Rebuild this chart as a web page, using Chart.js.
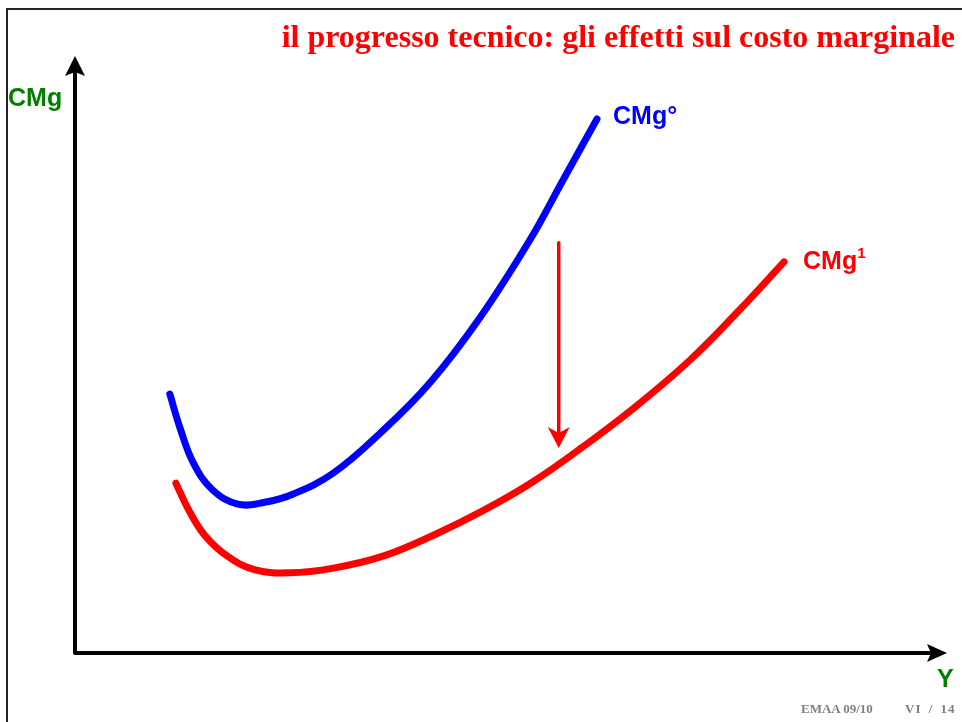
<!DOCTYPE html>
<html>
<head>
<meta charset="utf-8">
<script src="https://cdn.jsdelivr.net/npm/chart.js@4/dist/chart.umd.min.js"></script>
<style>
    html, body { margin: 0; padding: 0; background: #fff; }
    #wrap { position: relative; width: 962px; height: 722px; overflow: hidden; }
    #frame { position: absolute; left: 6px; top: 8px; right: -10px; bottom: -10px; border-left: 2px solid #222; border-top: 2px solid #222; }
    .t { position: absolute; white-space: nowrap; line-height: 1; }
    .sans { font-family: "Liberation Sans", Arial, sans-serif; font-weight: bold; }
    .serif { font-family: "Liberation Serif", "Times New Roman", serif; font-weight: bold; }
    sup { font-size: 15px; position: relative; top: -2px; }
</style>
</head>
<body>
<div id="wrap">
    <div id="frame"></div>
    <canvas id="curveChart" width="962" height="722"></canvas>
    <div class="t serif" style="right:7px; top:20px; font-size:32px; color:#ff0000;">il progresso tecnico: gli effetti sul costo marginale</div>
    <div class="t sans" style="left:8px; top:85px; font-size:25px; color:#008000;">CMg</div>
    <div class="t sans" style="left:613px; top:103px; font-size:25px; color:#0000ff;">CMg°</div>
    <div class="t sans" style="left:803px; top:247px; font-size:25px; color:#ff0000;">CMg<sup>1</sup></div>
    <div class="t sans" style="left:937px; top:666px; font-size:25px; color:#008000;">Y</div>
    <div class="t serif" style="left:801px; top:702px; font-size:13px; color:#808080;">EMAA 09/10</div>
    <div class="t serif" style="left:905px; top:702px; font-size:13px; color:#808080; letter-spacing:1px; word-spacing:3px;">VI / 14</div>
</div>
<script>
// curve values (Y on x, CMg on y), both axes 0..100
const cmg0X = [10.9, 12.1, 13.6, 15.8, 18.7, 21.8, 25.1, 29.7, 35.1, 40.8, 46.6, 52.3, 56.1, 60.0];
const cmg0Y = [43.3, 37.5, 31.8, 27.3, 24.9, 25.2, 26.6, 30.1, 36.8, 45.2, 56.2, 69.1, 79.1, 89.3];

const cmg1X = [11.6, 13.0, 14.9, 17.6, 20.7, 24.7, 29.7, 35.4, 41.2, 46.9, 52.6, 58.4, 64.1, 70.7, 76.4, 81.5];
const cmg1Y = [28.4, 24.1, 19.7, 16.1, 13.9, 13.4, 14.2, 16.2, 19.7, 23.8, 28.6, 34.5, 40.8, 49.0, 57.4, 65.4];

// the downward shift arrow
const shiftX = 55.6;
const shiftFrom = 68.6;
const shiftTo = 34.3;

const toPoints = (xs, ys) => xs.map((x, i) => ({ x: x, y: ys[i] }));

function head(ctx, x, y, dx, dy, len, half, notch) {
    const nx = -dy, ny = dx;
    ctx.beginPath();
    ctx.moveTo(x, y);
    ctx.lineTo(x - dx * len + nx * half, y - dy * len + ny * half);
    ctx.lineTo(x - dx * notch, y - dy * notch);
    ctx.lineTo(x - dx * len - nx * half, y - dy * len - ny * half);
    ctx.closePath();
    ctx.fill();
}

const axesPlugin = {
    id: 'axesArrows',
    beforeDatasetsDraw(chart) {
        const ctx = chart.ctx;
        const a = chart.chartArea;
        ctx.save();
        ctx.strokeStyle = '#000';
        ctx.fillStyle = '#000';
        ctx.lineWidth = 4;
        ctx.lineCap = 'round';
        ctx.beginPath();
        ctx.moveTo(a.left, a.bottom);
        ctx.lineTo(a.left, a.top + 12);
        ctx.moveTo(a.left, a.bottom);
        ctx.lineTo(a.right - 10, a.bottom);
        ctx.stroke();
        head(ctx, a.left, a.top + 1, 0, -1, 20, 10, 16);
        head(ctx, a.right + 2, a.bottom, 1, 0, 20, 9, 16);

        // shift arrow
        const xs = chart.scales.x, ys = chart.scales.y;
        const px = xs.getPixelForValue(shiftX);
        const py0 = ys.getPixelForValue(shiftFrom);
        const py1 = ys.getPixelForValue(shiftTo);
        ctx.strokeStyle = '#ff0000';
        ctx.fillStyle = '#ff0000';
        ctx.lineWidth = 3.5;
        ctx.beginPath();
        ctx.moveTo(px, py0);
        ctx.lineTo(px, py1 - 12);
        ctx.stroke();
        head(ctx, px, py1, 0, 1, 21, 11, 15);
        ctx.restore();
    }
};

const ctx = document.getElementById('curveChart').getContext('2d');

const chart = new Chart(ctx, {
    type: 'line',
    data: {
        datasets: [{
            label: 'CMg°',
            data: toPoints(cmg0X, cmg0Y),
            borderColor: '#0000ff',
            borderWidth: 7,
            borderCapStyle: 'round',
            borderJoinStyle: 'round',
            tension: 0.4,
            pointRadius: 0,
            fill: false,
            clip: false
        }, {
            label: 'CMg1',
            data: toPoints(cmg1X, cmg1Y),
            borderColor: '#ff0000',
            borderWidth: 7,
            borderCapStyle: 'round',
            borderJoinStyle: 'round',
            tension: 0.4,
            pointRadius: 0,
            fill: false,
            clip: false
        }]
    },
    options: {
        responsive: false,
        animation: false,
        devicePixelRatio: 1,
        layout: { padding: { left: 75, right: 17, top: 55, bottom: 69 } },
        scales: {
            x: { type: 'linear', min: 0, max: 100, display: false },
            y: { type: 'linear', min: 0, max: 100, display: false }
        },
        plugins: {
            legend: { display: false },
            tooltip: { enabled: false }
        }
    },
    plugins: [axesPlugin]
});
</script>
</body>
</html>
